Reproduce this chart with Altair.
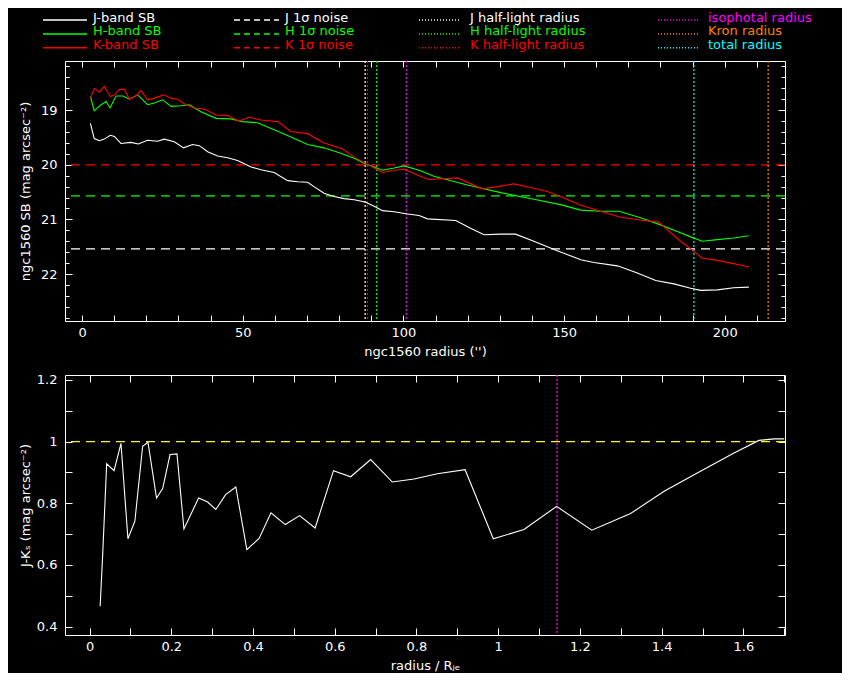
import altair as alt
import pandas as pd

WHITE, GREEN, RED = "#ffffff", "#00ff00", "#ff0000"
MAGENTA, ORANGE, CYAN, YELLOW = "#ff00ff", "#ff8000", "#00ffff", "#ffff00"
FONT = "DejaVu Sans"

# ---------------- top panel: surface-brightness profiles ----------------
j_radius = [2.6, 3.8, 5.4, 6.9, 8.8, 10.1, 12.1, 15.2, 17.5, 20.4, 23.5, 25.6, 28.7, 31.6, 34.4,
            36.5, 39.1, 42.2, 45.3, 48.4, 52.6, 55.7, 59.8, 64.0, 67.1, 70.2, 72.2, 75.3, 78.4,
            81.6, 84.7, 88.1, 90.9, 93.5, 97.1, 101.3, 104.9, 107.5, 116.3, 120.9, 125.1, 130.3,
            134.9, 140.6, 146.9, 155.2, 159.3, 166.6, 172.8, 178.5, 184.2, 189.4, 192.5, 197.7,
            202.8, 207.5]
j_sb = [19.24, 19.52, 19.56, 19.53, 19.46, 19.48, 19.61, 19.59, 19.62, 19.55, 19.57, 19.53, 19.58,
        19.69, 19.63, 19.65, 19.76, 19.84, 19.87, 19.92, 20.04, 20.09, 20.14, 20.29, 20.31, 20.32,
        20.40, 20.52, 20.58, 20.62, 20.64, 20.68, 20.76, 20.84, 20.86, 20.90, 20.93, 20.99, 21.02,
        21.16, 21.28, 21.27, 21.27, 21.40, 21.55, 21.74, 21.79, 21.85, 21.98, 22.12, 22.18, 22.26,
        22.30, 22.29, 22.25, 22.24]

h_radius = [2.6, 3.8, 5.9, 7.5, 8.7, 10.6, 12.7, 14.7, 17.3, 20.4, 22.5, 25.1, 27.7, 30.8, 33.4,
            37.0, 41.7, 46.3, 50.0, 54.6, 59.8, 65.0, 70.2, 75.3, 80.5, 84.7, 88.1, 90.9, 93.5,
            97.1, 100.2, 104.9, 109.5, 119.9, 130.3, 140.6, 148.9, 155.2, 161.4, 167.1, 173.8,
            180.0, 185.2, 189.4, 193.0, 197.7, 202.8, 207.5]
h_sb = [18.75, 19.01, 18.90, 18.84, 18.96, 18.74, 18.74, 18.80, 18.72, 18.90, 18.87, 18.81, 18.93,
        18.92, 18.90, 19.03, 19.15, 19.16, 19.21, 19.23, 19.36, 19.49, 19.63, 19.69, 19.79, 19.88,
        19.98, 20.04, 20.10, 20.06, 20.02, 20.10, 20.21, 20.37, 20.51, 20.63, 20.73, 20.83, 20.85,
        20.85, 20.97, 21.10, 21.22, 21.32, 21.40, 21.37, 21.34, 21.30]

k_radius = [2.6, 3.8, 5.4, 6.9, 8.8, 10.1, 11.6, 13.2, 14.7, 16.8, 18.3, 20.4, 22.5, 25.4, 27.7,
            29.8, 32.3, 34.9, 38.0, 41.7, 45.3, 48.9, 52.0, 55.7, 60.9, 65.0, 70.2, 75.3, 81.1,
            84.7, 88.1, 90.9, 93.5, 97.1, 100.2, 104.9, 108.0, 116.8, 124.6, 129.3, 134.4, 140.6,
            144.8, 148.9, 155.2, 161.4, 167.6, 173.8, 179.5, 182.1, 186.3, 189.4, 193.0, 197.7,
            202.8, 207.5]
k_sb = [18.78, 18.60, 18.67, 18.56, 18.75, 18.72, 18.62, 18.62, 18.80, 18.74, 18.64, 18.81, 18.78,
        18.72, 18.78, 18.80, 18.90, 18.96, 18.98, 19.09, 19.10, 19.20, 19.13, 19.18, 19.21, 19.39,
        19.43, 19.60, 19.71, 19.86, 19.97, 20.06, 20.14, 20.10, 20.08, 20.20, 20.27, 20.24, 20.44,
        20.40, 20.35, 20.43, 20.49, 20.58, 20.74, 20.85, 20.96, 21.01, 21.05, 21.19, 21.40, 21.54,
        21.71, 21.75, 21.81, 21.87]

noise_level = [21.54, 20.57, 20.00]
noise_color = [WHITE, GREEN, RED]

radius_value = [88.1, 91.7, 88.8, 100.9, 213.5, 190.4]
radius_color = [WHITE, GREEN, RED, MAGENTA, ORANGE, CYAN]

# ---------------- bottom panel: J-Ks colour profile ----------------
jk_x = [0.026, 0.032, 0.042, 0.060, 0.077, 0.094, 0.111, 0.130, 0.143, 0.164, 0.179, 0.197, 0.214,
        0.231, 0.267, 0.289, 0.309, 0.333, 0.358, 0.385, 0.415, 0.444, 0.479, 0.514, 0.552, 0.597,
        0.639, 0.688, 0.741, 0.794, 0.851, 0.919, 0.988, 1.063, 1.143, 1.229, 1.324, 1.406, 1.495,
        1.577, 1.638, 1.675, 1.700]
jk_y = [0.466, 0.628, 0.928, 0.906, 0.994, 0.685, 0.742, 0.985, 0.998, 0.817, 0.848, 0.958, 0.960,
        0.717, 0.817, 0.804, 0.780, 0.828, 0.853, 0.650, 0.686, 0.769, 0.731, 0.760, 0.720, 0.906,
        0.886, 0.942, 0.869, 0.879, 0.896, 0.909, 0.685, 0.715, 0.790, 0.713, 0.767, 0.839, 0.904,
        0.963, 1.004, 1.009, 1.009]
jk_ref_level = [1.0]
jk_iso_radius = [1.144]

# ---------------- ticks ----------------
top_x_ticks = list(range(0, 220, 10))
top_y_major = [19, 20, 21, 22]
top_y_minor = [round(18.2 + 0.2 * i, 1) for i in range(24)]
bot_x_ticks = [round(0.1 * i, 1) for i in range(18)]
bot_y_ticks = [round(0.4 + 0.1 * i, 1) for i in range(9)]

# ---------------- legend ----------------
legend_labels = [["J-band SB", "H-band SB", "K-band SB"],
                 ["J 1σ noise", "H 1σ noise", "K 1σ noise"],
                 ["J half-light radius", "H half-light radius", "K half-light radius"],
                 ["isophotal radius", "Kron radius", "total radius"]]
legend_colors = [[WHITE, GREEN, RED], [WHITE, GREEN, RED], [WHITE, GREEN, RED],
                 [MAGENTA, ORANGE, CYAN]]
legend_dash = [[1, 0], [6, 4], [1, 2], [1, 2]]
# layout (page-pixel units) of the legend block
leg_line_x0 = [42, 233, 418, 657]
leg_line_x1 = [86, 278, 458, 697]
leg_text_x = [92, 284, 469, 707]
leg_line_y = [20, 34, 47.7]
leg_text_y = [21.7, 35.2, 48.8]


def axis(orient, values, size, labels=False, label_expr=None, fmt=None, pad=None, title_pad=None):
    kw = dict(orient=orient, values=values, tickSize=size, offset=-size, labels=labels,
              labelOverlap=False, labelFlush=False, domain=False, grid=False)
    if label_expr is not None:
        kw["labelExpr"] = label_expr
    if fmt is not None:
        kw["format"] = fmt
    if pad is not None:
        kw["labelPadding"] = pad
    if title_pad is not None:
        kw["titlePadding"] = title_pad
    return alt.Axis(**kw)


# ---- top panel ----
xs_top = alt.Scale(domain=[-5.3, 218.75], nice=False, zero=False)
ys_top = alt.Scale(domain=[18.10, 22.86], reverse=True, nice=False, zero=False)

dfJ = pd.DataFrame({"r": j_radius, "sb": j_sb})
dfH = pd.DataFrame({"r": h_radius, "sb": h_sb})
dfK = pd.DataFrame({"r": k_radius, "sb": k_sb})
dfN = pd.DataFrame({"level": noise_level, "color": noise_color})
dfR = pd.DataFrame({"r": radius_value, "color": radius_color})

white = alt.Chart(dfJ).mark_line(color=WHITE, strokeWidth=1.1).encode(
    x=alt.X("r:Q", scale=xs_top, title="ngc1560 radius ('')",
            axis=axis("bottom", top_x_ticks, 6, True, "datum.value % 50 == 0 ? datum.label : ''", "d", 5, 6)),
    y=alt.Y("sb:Q", scale=ys_top, title="ngc1560 SB (mag arcsec⁻²)",
            axis=axis("left", top_y_major, 7, True, None, "d", 8, 8)),
)
green = alt.Chart(dfH).mark_line(color=GREEN, strokeWidth=1.1).encode(
    x=alt.X("r:Q", scale=xs_top, title=None, axis=axis("top", top_x_ticks, 6)),
    y=alt.Y("sb:Q", scale=ys_top, title=None, axis=axis("right", top_y_major, 7)),
)
red = alt.Chart(dfK).mark_line(color=RED, strokeWidth=1.1).encode(
    x=alt.X("r:Q", scale=xs_top, axis=None),
    y=alt.Y("sb:Q", scale=ys_top, title=None, axis=axis("left", top_y_minor, 4)),
)
noise = alt.Chart(dfN).mark_rule(strokeDash=[9, 6], strokeWidth=1.3).encode(
    y=alt.Y("level:Q", scale=ys_top, title=None, axis=axis("right", top_y_minor, 4)),
    color=alt.Color("color:N", scale=None),
)
radii = alt.Chart(dfR).mark_rule(strokeDash=[2, 2], strokeWidth=1.2).encode(
    x=alt.X("r:Q", scale=xs_top, axis=None),
    color=alt.Color("color:N", scale=None),
)
top = alt.layer(noise, radii, white, green, red).resolve_axis(
    x="independent", y="independent").properties(width=720, height=260)

# ---- bottom panel ----
xs_bot = alt.Scale(domain=[-0.06, 1.7018], nice=False, zero=False)
ys_bot = alt.Scale(domain=[0.373, 1.216], nice=False, zero=False)
dfJK = pd.DataFrame({"x": jk_x, "y": jk_y})
dfRef = pd.DataFrame({"y": jk_ref_level})
dfIso = pd.DataFrame({"x": jk_iso_radius})
even_expr = "abs(round(datum.value * 10)) % 2 == 0 ? datum.label : ''"

jk_line = alt.Chart(dfJK).mark_line(color=WHITE, strokeWidth=1.1).encode(
    x=alt.X("x:Q", scale=xs_bot, title="radius / Rⱼₑ",
            axis=axis("bottom", bot_x_ticks, 7, True, even_expr, "~g", 5, 6)),
    y=alt.Y("y:Q", scale=ys_bot, title="J-Kₛ (mag arcsec⁻²)",
            axis=axis("left", bot_y_ticks, 7, True, even_expr, "~g", 8, 4)),
)
ref_rule = alt.Chart(dfRef).mark_rule(color=YELLOW, strokeDash=[9, 6], strokeWidth=1.3).encode(
    y=alt.Y("y:Q", scale=ys_bot, title=None, axis=axis("right", bot_y_ticks, 7)),
)
iso_rule = alt.Chart(dfIso).mark_rule(color=MAGENTA, strokeDash=[2, 2], strokeWidth=1.2).encode(
    x=alt.X("x:Q", scale=xs_bot, title=None, axis=axis("top", bot_x_ticks, 7)),
)
bottom = alt.layer(ref_rule, iso_rule, jk_line).resolve_axis(
    x="independent", y="independent").properties(width=720, height=260)

# ---- legend block ----
rows = []
for c in range(4):
    for r in range(3):
        rows.append(dict(col=c, label=legend_labels[c][r], color=legend_colors[c][r],
                         x0=leg_line_x0[c], x1=leg_line_x1[c], xt=leg_text_x[c],
                         yl=leg_line_y[r], yt=leg_text_y[r]))
dfL = pd.DataFrame(rows)
lx = alt.Scale(domain=[64, 784], nice=False, zero=False)
ly = alt.Scale(domain=[8, 61], reverse=True, nice=False, zero=False)

leg_layers = []
for c in range(4):
    leg_layers.append(
        alt.Chart(dfL).transform_filter(alt.datum.col == c)
        .mark_rule(strokeDash=legend_dash[c], strokeWidth=1.5)
        .encode(x=alt.X("x0:Q", scale=lx, axis=None), x2="x1:Q",
                y=alt.Y("yl:Q", scale=ly, axis=None),
                color=alt.Color("color:N", scale=None))
    )
leg_text = alt.Chart(dfL).mark_text(align="left", baseline="alphabetic", font=FONT, fontSize=13).encode(
    x=alt.X("xt:Q", scale=lx, axis=None),
    y=alt.Y("yt:Q", scale=ly, axis=None),
    text="label:N",
    color=alt.Color("color:N", scale=None),
)
legend = alt.layer(*leg_layers, leg_text).properties(
    width=720, height=53, view=alt.ViewBackground(strokeOpacity=0))

chart = alt.vconcat(
    legend,
    alt.vconcat(top, bottom, spacing=54, bounds="flush"),
    spacing=0, bounds="flush",
).properties(
    padding={"left": 10, "top": 0, "right": 30, "bottom": 0}
).configure(
    background="black"
).configure_view(
    stroke="white", strokeWidth=1
).configure_axis(
    labelFont=FONT, titleFont=FONT, labelColor="white", titleColor="white",
    tickColor="white", tickWidth=1, labelFontSize=13, titleFontSize=13,
    titleFontWeight="normal",
)

chart.save("out.html", embed_options={"renderer": "svg", "actions": False})
